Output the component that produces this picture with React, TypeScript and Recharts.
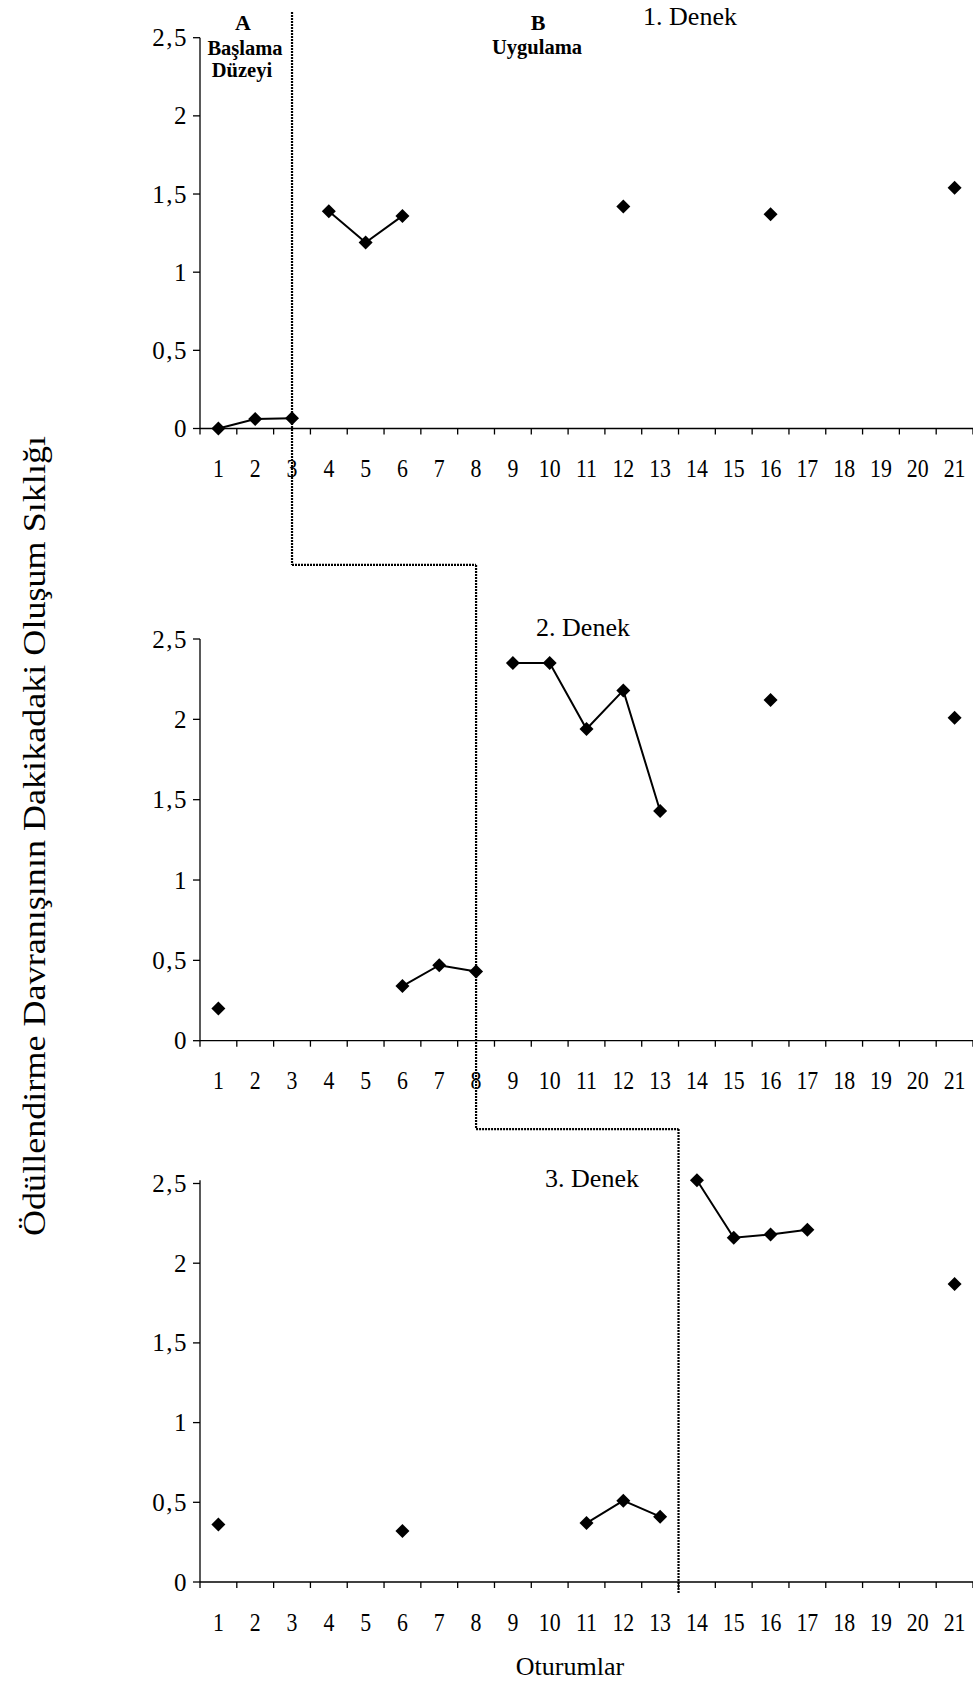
import React from "react";
import { LineChart, Line, XAxis, YAxis, ReferenceLine } from "recharts";

// sessions (Oturumlar) 1..21
const sessions = [1, 2, 3, 4, 5, 6, 7, 8, 9, 10, 11, 12, 13, 14, 15, 16, 17, 18, 19, 20, 21];
const yTicks = [0, 0.5, 1, 1.5, 2, 2.5];

// 1. Denek
const denek1Baseline = [0, 0.06, 0.065, null, null, null, null, null, null, null, null, null, null, null, null, null, null, null, null, null, null];
const denek1Treatment = [null, null, null, 1.39, 1.19, 1.36, null, null, null, null, null, 1.42, null, null, null, 1.37, null, null, null, null, 1.54];

// 2. Denek
const denek2Baseline = [0.2, null, null, null, null, 0.34, 0.47, 0.43, null, null, null, null, null, null, null, null, null, null, null, null, null];
const denek2Treatment = [null, null, null, null, null, null, null, null, 2.35, 2.35, 1.94, 2.18, 1.43, null, null, 2.12, null, null, null, null, 2.01];

// 3. Denek
const denek3Baseline = [0.36, null, null, null, null, 0.32, null, null, null, null, 0.37, 0.51, 0.41, null, null, null, null, null, null, null, null];
const denek3Treatment = [null, null, null, null, null, null, null, null, null, null, null, null, null, 2.52, 2.16, 2.18, 2.21, null, null, null, 1.87];

const FONT = '"Liberation Serif", "Times New Roman", serif';

const xTicks = [...sessions.flatMap((s) => [s - 0.5, s]), sessions[sessions.length - 1] + 0.5];

const toRows = (a: (number | null)[], b: (number | null)[]) =>
  sessions.map((s, i) => ({ session: s, baseline: a[i], treatment: b[i] }));

const Diamond = (props: any) => {
  const { cx, cy, index } = props;
  if (cx == null || cy == null || props.value == null) return <g key={`e-${index}`} />;
  const r = 7;
  return (
    <path
      key={`d-${index}`}
      d={`M${cx},${cy - r}L${cx + r},${cy}L${cx},${cy + r}L${cx - r},${cy}Z`}
      fill="#000"
    />
  );
};

// integer sessions get a label, half steps get the small tick mark between them
const SessionTick = (props: any) => {
  const { x, y, payload } = props;
  const v = payload.value;
  if (Number.isInteger(v)) {
    return (
      <text
        transform={`translate(${x} ${y + 40}) scale(0.84 1)`}
        textAnchor="middle"
        dominantBaseline="central"
        fontSize={26}
        style={{ fontFamily: FONT }}
        fill="#000"
      >
        {v}
      </text>
    );
  }
  return <line x1={x} y1={y} x2={x} y2={y + 6} stroke="#000" strokeWidth={1.3} />;
};

const ValueTick = (props: any) => {
  const { x, y, payload } = props;
  return (
    <text
      x={x}
      y={y}
      textAnchor="end"
      dominantBaseline="central"
      fontSize={25}
      letterSpacing={1.5}
      style={{ fontFamily: FONT }}
      fill="#000"
    >
      {String(payload.value).replace(".", ",")}
    </text>
  );
};

const dotted = { stroke: "#000", strokeWidth: 2.2, strokeDasharray: "2 1" };

interface PanelProps {
  top: number;
  height: number;
  marginTop: number;
  axisHeight: number;
  baseline: (number | null)[];
  treatment: (number | null)[];
  phase: { x1: number; x2?: number; yTop: number; yBottom: number };
}

function Panel({ top, height, marginTop, axisHeight, baseline, treatment, phase }: PanelProps) {
  const data = toRows(baseline, treatment);
  return (
    <div style={{ position: "absolute", left: 0, top, width: 973, height }}>
      <LineChart width={973} height={height} data={data} margin={{ top: marginTop, right: 0, bottom: 0, left: 0 }}>
        <XAxis
          dataKey="session"
          type="number"
          domain={[0.5, 21.5]}
          ticks={xTicks}
          interval={0}
          height={axisHeight}
          tickLine={false}
          tickSize={0}
          tickMargin={0}
          tick={<SessionTick />}
          axisLine={{ stroke: "#000", strokeWidth: 1.3 }}
        />
        <YAxis
          type="number"
          domain={[0, 2.5]}
          ticks={yTicks}
          interval={0}
          width={200}
          tickSize={7}
          tickMargin={5}
          tick={<ValueTick />}
          axisLine={{ stroke: "#000", strokeWidth: 1.3 }}
          tickLine={{ stroke: "#000", strokeWidth: 1.3 }}
        />
        <ReferenceLine
          ifOverflow="visible"
          segment={[{ x: phase.x1, y: phase.yTop }, { x: phase.x1, y: phase.yBottom }]}
          {...dotted}
        />
        {phase.x2 != null && (
          <ReferenceLine
            ifOverflow="visible"
            segment={[{ x: phase.x1, y: phase.yBottom }, { x: phase.x2, y: phase.yBottom }]}
            {...dotted}
          />
        )}
        <Line
          type="linear"
          dataKey="baseline"
          stroke="#000"
          strokeWidth={2}
          dot={Diamond}
          activeDot={false}
          connectNulls={false}
          isAnimationActive={false}
        />
        <Line
          type="linear"
          dataKey="treatment"
          stroke="#000"
          strokeWidth={2}
          dot={Diamond}
          activeDot={false}
          connectNulls={false}
          isAnimationActive={false}
        />
      </LineChart>
    </div>
  );
}

export default function App() {
  // third panel: top of the value axis follows the largest value (2,52 sits just above 2,5)
  const max3 = Math.max(2.5, ...denek3Treatment.filter((v): v is number => v != null));
  const plot3Top = 1582 - (398.5 * max3) / 2.5;

  return (
    <div
      style={{
        position: "absolute",
        left: 0,
        top: 0,
        width: 973,
        height: 1682,
        overflow: "hidden",
        background: "#fff",
        fontFamily: FONT,
      }}
    >
      <style>{`.recharts-surface{overflow:visible}`}</style>

      <Panel
        top={0}
        height={565}
        marginTop={37.7}
        axisHeight={136.5}
        baseline={denek1Baseline}
        treatment={denek1Treatment}
        phase={{ x1: 3, x2: 8, yTop: 2.664, yBottom: -0.873 }}
      />
      <Panel
        top={565}
        height={569}
        marginTop={74}
        axisHeight={93.3}
        baseline={denek2Baseline}
        treatment={denek2Treatment}
        phase={{ x1: 8, x2: 13.5, yTop: 2.96, yBottom: -0.55 }}
      />
      <Panel
        top={1134}
        height={548}
        marginTop={plot3Top - 1134}
        axisHeight={100}
        baseline={denek3Baseline}
        treatment={denek3Treatment}
        phase={{ x1: 13.5, yTop: 2.842, yBottom: -0.075 }}
      />

      <svg
        width={973}
        height={1682}
        style={{ position: "absolute", left: 0, top: 0, pointerEvents: "none", fontFamily: FONT }}
        fill="#000"
      >
        <text x={243} y={22} textAnchor="middle" dominantBaseline="central" fontSize={22} fontWeight="bold">A</text>
        <text x={245} y={55} textAnchor="middle" fontSize={20.5} fontWeight="bold">Başlama</text>
        <text x={242} y={77} textAnchor="middle" fontSize={20.5} fontWeight="bold">Düzeyi</text>
        <text x={538} y={22} textAnchor="middle" dominantBaseline="central" fontSize={22} fontWeight="bold">B</text>
        <text x={537} y={54} textAnchor="middle" fontSize={20.5} fontWeight="bold">Uygulama</text>
        <text x={690} y={16} textAnchor="middle" dominantBaseline="central" fontSize={26}>1. Denek</text>
        <text x={583} y={627} textAnchor="middle" dominantBaseline="central" fontSize={26}>2. Denek</text>
        <text x={592} y={1178} textAnchor="middle" dominantBaseline="central" fontSize={26}>3. Denek</text>
        <text x={570} y={1675} textAnchor="middle" fontSize={26}>Oturumlar</text>
        <text
          transform="translate(45 836) rotate(-90)"
          textAnchor="middle"
          fontSize={31}
          textLength={800}
          lengthAdjust="spacingAndGlyphs"
        >
          Ödüllendirme Davranışının Dakikadaki Oluşum Sıklığı
        </text>
      </svg>
    </div>
  );
}
